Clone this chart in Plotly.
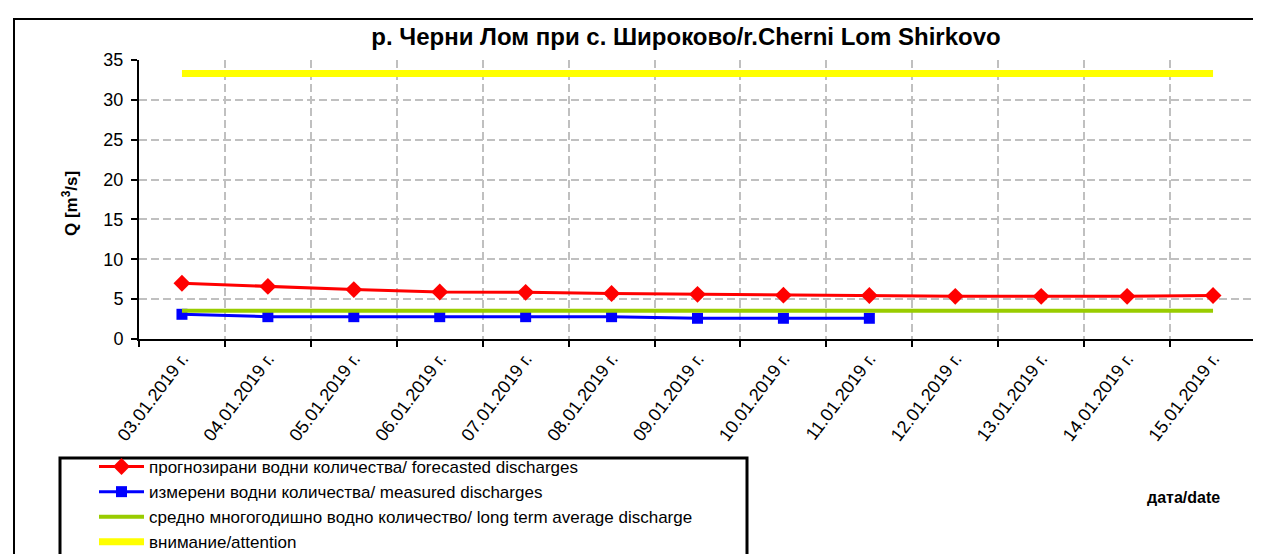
import plotly.graph_objects as go

dates = ["03.01.2019 г.", "04.01.2019 г.", "05.01.2019 г.", "06.01.2019 г.", "07.01.2019 г.",
         "08.01.2019 г.", "09.01.2019 г.", "10.01.2019 г.", "11.01.2019 г.", "12.01.2019 г.",
         "13.01.2019 г.", "14.01.2019 г.", "15.01.2019 г."]
forecast = [7.0, 6.6, 6.2, 5.9, 5.85, 5.7, 5.6, 5.5, 5.45, 5.35, 5.35, 5.35, 5.45]
measured_dates = dates[:9]
measured = [3.1, 2.8, 2.8, 2.8, 2.8, 2.8, 2.6, 2.6, 2.6]
average = [3.55, 3.55, 3.55, 3.55, 3.55, 3.55, 3.55, 3.55, 3.55, 3.55, 3.55, 3.55, 3.55]
attention = [33.3, 33.3, 33.3, 33.3, 33.3, 33.3, 33.3, 33.3, 33.3, 33.3, 33.3, 33.3, 33.3]

names = ["прогнозирани водни количества/ forecasted discharges",
         "измерени водни количества/ measured discharges",
         "средно многогодишно водно количество/ long term average discharge",
         "внимание/attention"]

FONT = "Liberation Sans, Arial, sans-serif"

fig = go.Figure()
fig.add_trace(go.Scatter(x=dates, y=forecast, mode="lines+markers", name=names[0],
                         line=dict(color="#ff0000", width=3),
                         marker=dict(symbol="diamond", size=13, color="#ff0000")))
fig.add_trace(go.Scatter(x=measured_dates, y=measured, mode="lines+markers", name=names[1],
                         line=dict(color="#0000ff", width=3),
                         marker=dict(symbol="square", size=11, color="#0000ff")))
fig.add_trace(go.Scatter(x=dates, y=average, mode="lines", name=names[2],
                         line=dict(color="#99cc00", width=4)))
fig.add_trace(go.Scatter(x=dates, y=attention, mode="lines", name=names[3],
                         line=dict(color="#ffff00", width=7)))

FW, FH = 1261, 554
L, T, W, H = 131, 52, 1117, 279


def px(x):
    return (x - L) / W


def py(y):
    return (T + H - y) / H


fig.update_layout(
    width=FW, height=FH,
    margin=dict(l=L, r=FW - L - W, t=T, b=FH - T - H, autoexpand=False),
    paper_bgcolor="white", plot_bgcolor="white",
    font=dict(family=FONT, color="black"),
    title=dict(text="<b>р. Черни Лом при с. Широково/r.Cherni Lom Shirkovo</b>",
               x=678 / FW, xref="container", xanchor="center",
               y=1 - 29 / FH, yref="container", yanchor="middle",
               font=dict(size=24, family=FONT, color="black")),
    showlegend=True,
    legend=dict(x=px(86), y=py(441), xanchor="left", yanchor="top",
                bgcolor="rgba(0,0,0,0)", borderwidth=0, itemwidth=45,
                font=dict(size=17, family=FONT, color="black"),
                traceorder="normal"),
    xaxis=dict(type="category", tickson="boundaries", tickangle=-53,
               showline=True, linecolor="black", linewidth=2,
               ticks="outside", ticklen=6, tickwidth=2, tickcolor="black",
               showgrid=True, gridcolor="#c0c0c0", gridwidth=2, griddash="8px,4px",
               tickfont=dict(size=18, family=FONT, color="black"),
               range=[-0.5, 12.5]),
    yaxis=dict(range=[0, 35], dtick=5, tick0=0,
               showline=True, linecolor="black", linewidth=2,
               ticks="outside", ticklen=6, tickwidth=2, tickcolor="black",
               ticklabelstandoff=4,
               showgrid=True, gridcolor="#c0c0c0", gridwidth=2, griddash="8px,4px",
               zeroline=False,
               tickfont=dict(size=18, family=FONT, color="black")),
    shapes=[
        dict(type="rect", xref="paper", yref="paper",
             x0=px(6), x1=px(1275), y0=py(11), y1=py(570),
             line=dict(color="black", width=2), fillcolor="rgba(0,0,0,0)", layer="below"),
        dict(type="rect", xref="paper", yref="paper",
             x0=px(52), x1=px(739), y0=py(450), y1=py(570),
             line=dict(color="black", width=3), fillcolor="rgba(0,0,0,0)"),
    ],
    annotations=[
        dict(text="<b>дата/date</b>", xref="paper", yref="paper",
             x=px(1175), y=py(489), xanchor="center", yanchor="middle",
             showarrow=False, font=dict(size=16, family=FONT, color="black")),
        dict(text="<b>Q [m<sup>3</sup>/s]</b>", xref="paper", yref="paper",
             x=px(62), y=py(196), xanchor="center", yanchor="middle", textangle=-90,
             showarrow=False, font=dict(size=17, family=FONT, color="black")),
    ],
)

fig.write_html("out.html")
